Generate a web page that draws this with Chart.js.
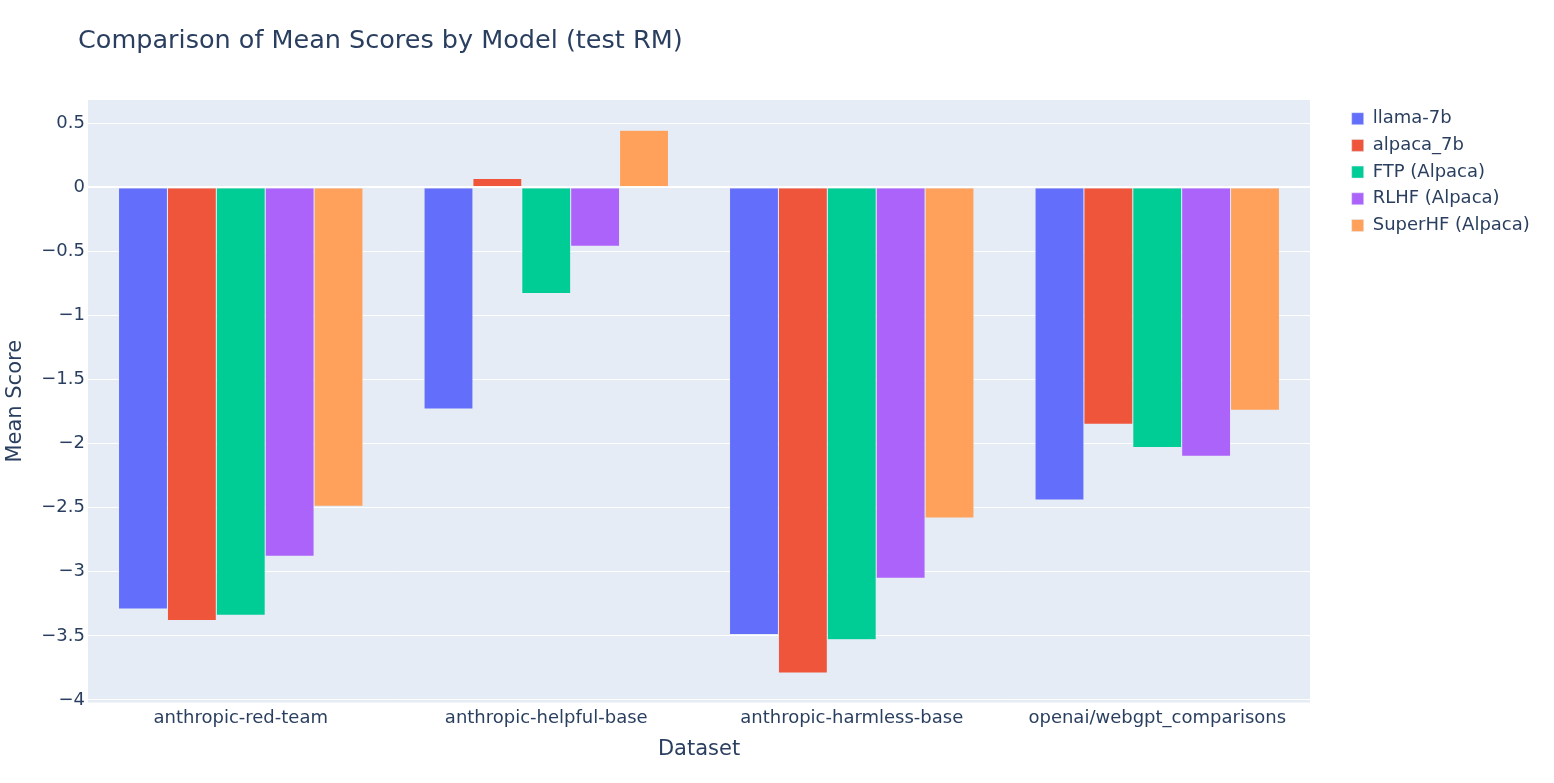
<!DOCTYPE html>
<html>
<head>
<meta charset="utf-8">
<script src="https://cdn.jsdelivr.net/npm/chart.js@4.4.1/dist/chart.umd.min.js"></script>
<style>
  html, body { margin: 0; padding: 0; background: #fff; }
  #wrap { width: 1554px; height: 783px; }
</style>
</head>
<body>
<div id="wrap"><canvas id="chart" width="1554" height="783"></canvas></div>
<script>
// data
var datasets = [
  "anthropic-red-team",
  "anthropic-helpful-base",
  "anthropic-harmless-base",
  "openai/webgpt_comparisons"
];
var llama7b = [-3.29, -1.73, -3.49, -2.44];
var alpaca7b = [-3.38, 0.067, -3.79, -1.85];
var ftpAlpaca = [-3.34, -0.83, -3.53, -2.03];
var rlhfAlpaca = [-2.88, -0.46, -3.05, -2.10];
var superhfAlpaca = [-2.49, 0.445, -2.58, -1.74];

var modelNames = ["llama-7b", "alpaca_7b", "FTP (Alpaca)", "RLHF (Alpaca)", "SuperHF (Alpaca)"];
var modelColors = ["#636efa", "#EF553B", "#00cc96", "#ab63fa", "#FFA15A"];
var yMin = -4.02, yMax = 0.68, yStep = 0.5;

var FONT = "Verdana, 'DejaVu Sans', sans-serif";
var TXT = "#2a3f5f";
var BG = "#E5ECF6";

// plot background
var plotBg = {
  id: "plotBg",
  beforeDraw: function(chart) {
    var a = chart.chartArea, c = chart.ctx;
    c.save();
    c.fillStyle = BG;
    c.fillRect(a.left, a.top, a.right - a.left, a.bottom - a.top);
    c.restore();
  }
};

// keep legend width fixed, move title / legend to where plotly puts them
var placeBlocks = {
  id: "placeBlocks",
  afterInit: function(chart) {
    var lg = chart.legend;
    var fit = lg.fit;
    lg.fit = function() {
      fit.call(this);
      this.width = 244;
    };
  },
  afterLayout: function(chart) {
    chart.titleBlock.left += 78;
    chart.legend.left += 33;
    chart.legend.right += 33;
    chart.legend.top += 1;
  }
};

var series = [llama7b, alpaca7b, ftpAlpaca, rlhfAlpaca, superhfAlpaca];
var ds = [];
for (var i = 0; i < series.length; i++) {
  ds.push({
    label: modelNames[i],
    data: series[i],
    backgroundColor: modelColors[i],
    borderColor: BG,
    borderWidth: 0.5,
    categoryPercentage: 0.8,
    barPercentage: 1.0
  });
}

function fmt(v) {
  var s = String(Math.abs(v));
  return v < 0 ? "\u2212" + s : s;
}

var ctx = document.getElementById("chart").getContext("2d");
var chart = new Chart(ctx, {
  type: "bar",
  data: { labels: datasets, datasets: ds },
  plugins: [plotBg, placeBlocks],
  options: {
    responsive: false,
    animation: false,
    layout: { padding: 0 },
    plugins: {
      title: {
        display: true,
        text: "Comparison of Mean Scores by Model (test RM)",
        align: "start",
        color: TXT,
        font: { family: FONT, size: 25.5, weight: "normal" },
        padding: { top: 25.7, bottom: 43.7 }
      },
      legend: {
        display: true,
        position: "right",
        align: "start",
        fullSize: false,
        labels: {
          color: TXT,
          font: { family: FONT, size: 18 },
          boxWidth: 12,
          boxHeight: 12,
          padding: 8.7
        }
      },
      tooltip: { enabled: false }
    },
    scales: {
      x: {
        grid: { display: false, drawTicks: false },
        border: { display: false },
        ticks: {
          color: TXT,
          font: { family: FONT, size: 18 },
          padding: 5,
          maxRotation: 0
        },
        title: {
          display: true,
          text: "Dataset",
          color: TXT,
          font: { family: FONT, size: 21 },
          padding: { top: 0, bottom: 21 }
        },
        afterFit: function(s) { s.height = 80.5; }
      },
      y: {
        min: yMin,
        max: yMax,
        border: { display: false },
        grid: {
          color: "#ffffff",
          lineWidth: function(c) { return c.tick && c.tick.value === 0 ? 2 : 1; },
          drawTicks: false
        },
        ticks: {
          stepSize: yStep,
          includeBounds: false,
          color: TXT,
          font: { family: FONT, size: 18 },
          padding: 3,
          callback: function(v) { return fmt(v); }
        },
        title: {
          display: true,
          text: "Mean Score",
          color: TXT,
          font: { family: FONT, size: 21 },
          padding: { top: 3, bottom: 0 }
        },
        afterFit: function(s) { s.width = 88; }
      }
    }
  }
});
</script>
</body>
</html>
